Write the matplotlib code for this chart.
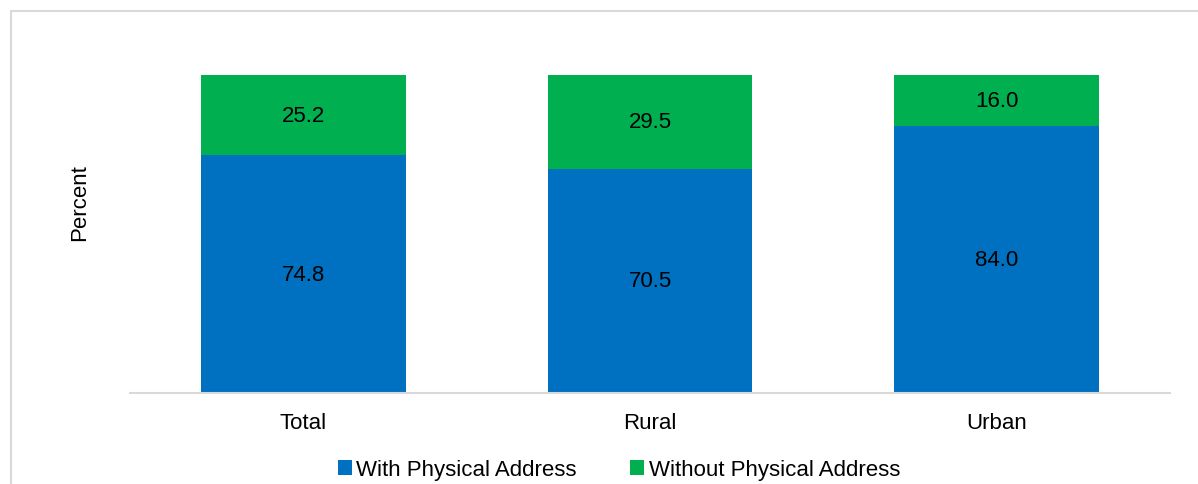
import matplotlib.pyplot as plt
from matplotlib.patches import Rectangle

plt.rcParams['font.family'] = ['Liberation Sans', 'DejaVu Sans']

categories = ['Total', 'Rural', 'Urban']
with_address = [74.8, 70.5, 84.0]
without_address = [25.2, 29.5, 16.0]
series_names = ['With Physical Address', 'Without Physical Address']
colors = ['#0070C0', '#00B050']

FS = 16

fig = plt.figure(figsize=(11.98, 4.85), dpi=100)
ax = fig.add_axes([130 / 1198, 91 / 485, 1040 / 1198, 318 / 485])

x = range(len(categories))
b1 = ax.bar(x, with_address, width=0.59, color=colors[0], label=series_names[0])
b2 = ax.bar(x, without_address, width=0.59, bottom=with_address, color=colors[1],
            label=series_names[1])

for bars, vals, bottoms in [(b1, with_address, [0] * 3), (b2, without_address, with_address)]:
    for bar, v, b in zip(bars, vals, bottoms):
        ax.text(bar.get_x() + bar.get_width() / 2, b + v / 2, f'{v:.1f}',
                ha='center', va='center', fontsize=FS, color='black')

ax.set_xlim(-0.5, 2.5)
ax.set_ylim(0, 100)
ax.set_xticks(list(x))
ax.set_xticklabels(categories, fontsize=FS)
ax.tick_params(axis='x', length=0, pad=14)
ax.set_yticks([])
for s in ['top', 'right', 'left']:
    ax.spines[s].set_visible(False)
ax.spines['bottom'].set_color('#D9D9D9')
ax.spines['bottom'].set_linewidth(1.5)

fig.text(80 / 1198, 1 - 203 / 485, 'Percent', rotation=90, ha='center', va='center', fontsize=FS)

fig.legend(loc='center', bbox_to_anchor=(619 / 1198, 1 - 471 / 485), ncol=2, frameon=False,
           fontsize=FS, handlelength=0.63, handleheight=0.63, handletextpad=0.2,
           columnspacing=2.4, borderpad=0)

# outer chart frame, runs off the right and bottom edges
fig.patches.append(Rectangle((11 / 1198, -0.1), 1.2, 1 - 12 / 485 + 0.1, transform=fig.transFigure,
                             fill=False, edgecolor='#D9D9D9', linewidth=1.5))

fig.savefig('out.png', dpi=100)
